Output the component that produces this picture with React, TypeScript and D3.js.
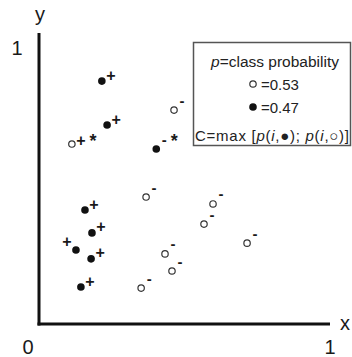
import { useEffect, useRef } from 'react';
import * as d3 from 'd3';

// point data (unit square)
const pointX = [0.216, 0.464, 0.234, 0.113, 0.403, 0.368, 0.598, 0.158, 0.567, 0.182, 0.127, 0.715, 0.179, 0.433, 0.457, 0.144, 0.351];
const pointY = [0.88, 0.775, 0.721, 0.652, 0.634, 0.46, 0.435, 0.413, 0.362, 0.33, 0.268, 0.293, 0.236, 0.254, 0.192, 0.134, 0.13];
const pointClass = ['filled', 'open', 'filled', 'open', 'filled', 'open', 'open', 'filled', 'open', 'filled', 'filled', 'open', 'filled', 'open', 'open', 'filled', 'open'];
const pointSign = ['+', '-', '+', '+', '-', '-', '-', '+', '-', '+', '+', '-', '+', '-', '-', '+', '-'];
const pointStar = [false, false, false, true, true, false, false, false, false, false, false, false, false, false, false, false, false];
const signSide = ['right', 'right', 'right', 'low', 'right', 'right', 'right', 'right', 'right', 'right', 'left', 'right', 'right', 'right', 'right', 'right', 'right'];

const axisTicks = ['0', '1'];
const legendTitle = 'class probability';
const legendOpen = '=0.53';
const legendFilled = '=0.47';

const W = 352;
const H = 357;
const FONT = 'Liberation Sans, Arial, sans-serif';

const App = () => {
  const svgRef = useRef<SVGSVGElement>(null);

  useEffect(() => {
    const svg = d3.select(svgRef.current);
    svg.selectAll('*').remove();

    const x = d3.scaleLinear().domain([0, 1]).range([39, 330]);
    const y = d3.scaleLinear().domain([0, 1]).range([324, 48]);
    const ink = '#111';

    // axes
    svg.append('line')
      .attr('x1', x(0)).attr('x2', x(0))
      .attr('y1', y(0) + 1.5).attr('y2', 33)
      .attr('stroke', ink).attr('stroke-width', 3);
    svg.append('line')
      .attr('x1', x(0) - 1.5).attr('x2', x(1))
      .attr('y1', y(0)).attr('y2', y(0))
      .attr('stroke', ink).attr('stroke-width', 3);

    const lbl = (tx: number, ty: number, t: string, size = 20, weight = 'normal') =>
      svg.append('text')
        .attr('x', tx).attr('y', ty)
        .attr('text-anchor', 'middle')
        .attr('font-family', FONT)
        .attr('font-size', size)
        .attr('font-weight', weight)
        .attr('fill', '#1a1a1a')
        .text(t);

    lbl(x(0) + 1, 21, 'y');
    lbl(x(1) + 15, y(0) + 6, 'x');
    lbl(x(0) - 11, 354, axisTicks[0]);
    lbl(x(1), 354, axisTicks[1]);
    lbl(17, y(1) + 7, axisTicks[1]);

    // points
    pointX.forEach((px, i) => {
      const cx = x(px);
      const cy = y(pointY[i]);
      if (pointClass[i] === 'filled') {
        svg.append('circle').attr('cx', cx).attr('cy', cy).attr('r', 3.8).attr('fill', ink);
      } else {
        svg.append('circle').attr('cx', cx).attr('cy', cy).attr('r', 3.2)
          .attr('fill', 'white').attr('stroke', '#333').attr('stroke-width', 1.2);
      }
      // centre of the sign glyph relative to the point
      let dx = 9;
      let dy = pointSign[i] === '+' ? -6 : -9;
      if (signSide[i] === 'left') {
        dx = -9;
        dy = -9;
      } else if (signSide[i] === 'low') {
        dy = -4;
      }
      if (pointSign[i] === '+') {
        lbl(cx + dx, cy + dy + 5.5, '+', 16, 'bold');
      } else {
        lbl(cx + dx - 1, cy + dy + 4.5, '-', 15, 'bold');
      }
      if (pointStar[i]) {
        const sdx = pointSign[i] === '+' ? 12 : 9;
        lbl(cx + dx + sdx, cy + dy - 5 + 12, '*', 18, 'bold');
      }
    });

    // legend
    const g = svg.append('g');
    g.append('rect')
      .attr('x', 193.5).attr('y', 42.5)
      .attr('width', 157).attr('height', 103)
      .attr('fill', 'white').attr('stroke', '#555').attr('stroke-width', 1.5);
    const t1 = g.append('text').attr('x', 275).attr('y', 67).attr('text-anchor', 'middle')
      .attr('font-family', FONT).attr('font-size', 15.5).attr('fill', '#222');
    t1.append('tspan').attr('font-style', 'italic').text('p');
    t1.append('tspan').text('=' + legendTitle);

    g.append('circle').attr('cx', 253).attr('cy', 84).attr('r', 3.2)
      .attr('fill', 'white').attr('stroke', '#333').attr('stroke-width', 1.2);
    g.append('text').attr('x', 261).attr('y', 89.5).attr('font-family', FONT)
      .attr('font-size', 15).attr('fill', '#222').text(legendOpen);
    g.append('circle').attr('cx', 253).attr('cy', 107).attr('r', 3.8).attr('fill', ink);
    g.append('text').attr('x', 261).attr('y', 112.5).attr('font-family', FONT)
      .attr('font-size', 15).attr('fill', '#222').text(legendFilled);

    const t4 = g.append('text').attr('x', 195).attr('y', 141)
      .attr('textLength', 154).attr('lengthAdjust', 'spacing')
      .attr('font-family', FONT).attr('font-size', 15).attr('fill', '#222');
    t4.append('tspan').text('C=max [');
    t4.append('tspan').attr('font-style', 'italic').text('p');
    t4.append('tspan').text('(');
    t4.append('tspan').attr('font-style', 'italic').text('i');
    t4.append('tspan').text(',\u25CF); ');
    t4.append('tspan').attr('font-style', 'italic').text('p');
    t4.append('tspan').text('(');
    t4.append('tspan').attr('font-style', 'italic').text('i');
    t4.append('tspan').text(',\u25CB)]');
  }, []);

  return (
    <svg ref={svgRef} width={W} height={H}
      style={{ position: 'absolute', left: 0, top: 0, background: 'white' }} />
  );
};

export default App;
